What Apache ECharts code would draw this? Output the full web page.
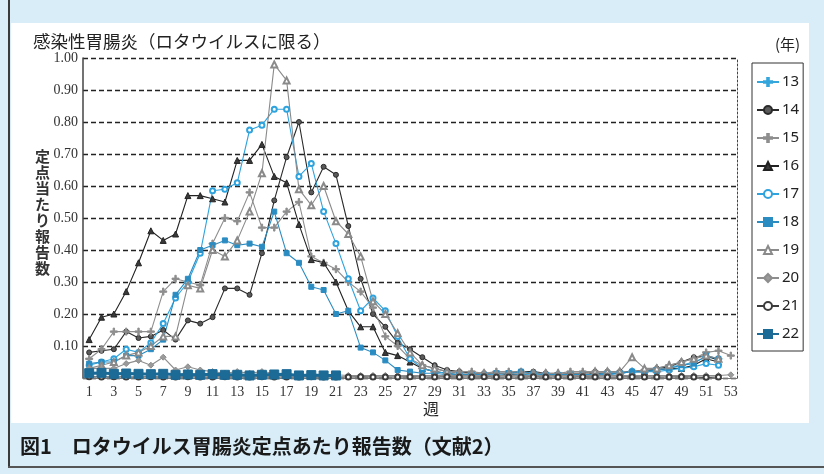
<!DOCTYPE html>
<html><head><meta charset="utf-8">
<script src="https://cdn.jsdelivr.net/npm/echarts@6/dist/echarts.min.js"></script>
<style>
html,body{margin:0;padding:0;background:#d8edf8;}
#wrap{position:relative;width:824px;height:474px;overflow:hidden;background:#d8edf8;}
#panel{position:absolute;left:11px;top:23px;width:798px;height:400px;background:#fff;}
#edge{position:absolute;left:8px;top:0;width:2px;height:468px;background:#3a3a3a;}
#bottom{position:absolute;left:8px;top:466px;width:816px;height:2px;background:#555;}
#chart{position:absolute;left:0;top:0;width:824px;height:474px;}
</style></head><body>
<div id="wrap"><div id="panel"></div><div id="edge"></div><div id="bottom"></div><div id="chart"></div></div>
<script>
const weeks = ['1','2','3','4','5','6','7','8','9','10','11','12','13','14','15','16','17','18','19','20','21','22','23','24','25','26','27','28','29','30','31','32','33','34','35','36','37','38','39','40','41','42','43','44','45','46','47','48','49','50','51','52','53'];
const seriesNames = ['13','14','15','16','17','18','19','20','21','22'];
const yTicks = [0.1,0.2,0.3,0.4,0.5,0.6,0.7,0.8,0.9,1.0];

const y13 = [null,null,null,null,null,null,null,null,null,null,null,null,null,null,null,null,null,null,null,null,null,null,null,null,null,null,null,null,null,null,null,null,null,null,null,null,null,null,null,null,null,
  0.01,0.01,0.015,0.02,0.02,0.03,0.035,0.04,0.05,0.065,0.06,null];
const y14 = [0.08,0.085,0.09,0.145,0.125,0.13,0.15,0.12,0.18,0.17,
  0.19,0.28,0.28,0.26,0.39,0.555,0.69,0.80,0.58,0.66,
  0.635,0.475,0.31,0.20,0.16,0.11,0.09,0.065,0.04,0.025,
  0.02,0.015,0.015,0.015,0.015,0.02,0.02,0.015,0.01,0.015,
  0.015,0.02,0.02,0.02,0.02,0.025,0.03,0.035,0.05,0.065,
  0.07,0.055,null];
const y15 = [0.06,0.09,0.145,0.145,0.145,0.145,0.27,0.31,0.30,0.29,
  0.42,0.50,0.49,0.58,0.47,0.47,0.52,0.55,0.38,0.36,
  0.34,0.30,0.27,0.22,0.13,0.10,0.06,0.04,0.03,0.02,
  0.02,0.02,0.015,0.02,0.02,0.02,0.015,0.015,0.015,0.02,
  0.02,0.02,0.02,0.02,0.02,0.025,0.03,0.04,0.05,0.06,
  0.08,0.085,0.07];
const y16 = [0.12,0.19,0.20,0.27,0.36,0.46,0.43,0.45,0.57,0.57,
  0.56,0.55,0.68,0.68,0.73,0.63,0.61,0.48,0.37,0.36,
  0.30,0.21,0.16,0.16,0.08,0.07,0.05,0.03,0.02,0.015,
  0.01,0.01,0.01,0.015,0.01,0.01,0.015,0.01,0.01,0.01,
  0.01,0.015,0.015,0.015,0.02,0.02,0.025,0.03,0.03,0.04,
  0.06,0.05,null];
const y17 = [0.04,0.05,0.06,0.09,0.08,0.11,0.17,0.25,0.30,0.39,
  0.585,0.59,0.61,0.775,0.79,0.84,0.84,0.63,0.67,0.52,
  0.42,0.31,0.21,0.25,0.21,0.13,0.06,0.03,0.02,0.015,
  0.01,0.01,0.01,0.01,0.015,0.01,0.01,0.01,0.01,0.01,
  0.01,0.01,0.015,0.015,0.02,0.02,0.02,0.025,0.03,0.035,
  0.045,0.04,null];
const y18 = [0.045,0.05,0.05,0.07,0.07,0.09,0.12,0.26,0.31,0.40,
  0.415,0.43,0.415,0.42,0.41,0.52,0.39,0.36,0.285,0.275,
  0.20,0.21,0.095,0.08,0.055,0.025,0.02,0.015,0.015,0.01,
  0.01,0.01,0.01,0.015,0.015,0.02,0.015,0.01,0.01,0.01,
  0.01,0.01,0.01,0.015,0.02,0.02,0.025,0.03,0.04,0.045,
  0.07,0.06,null];
const y19 = [0.03,0.04,0.05,0.07,0.08,0.10,0.13,0.13,0.29,0.28,
  0.40,0.38,0.43,0.52,0.64,0.98,0.93,0.59,0.54,0.60,
  0.49,0.45,0.38,0.24,0.20,0.14,0.08,0.04,0.03,0.02,
  0.015,0.015,0.015,0.015,0.015,0.015,0.015,0.015,0.015,0.015,
  0.015,0.02,0.02,0.02,0.065,0.03,0.03,0.04,0.05,0.06,
  0.07,0.06,null];
const y20 = [0.03,0.03,0.03,0.045,0.055,0.04,0.065,0.025,0.035,0.025,
  0.02,0.015,0.02,0.015,0.02,0.015,0.01,0.01,0.01,0.01,
  0.01,0.008,0.008,0.008,0.008,0.008,0.008,0.008,0.008,0.008,
  0.008,0.008,0.008,0.008,0.008,0.008,0.008,0.008,0.008,0.008,
  0.008,0.008,0.008,0.008,0.008,0.008,0.008,0.008,0.008,0.008,
  0.008,0.008,0.01];
const y21 = [0.004,0.003,0.004,0.003,0.003,0.004,0.003,0.003,0.004,0.003,
  0.003,0.004,0.003,0.003,0.004,0.003,0.003,0.003,0.004,0.003,
  0.003,0.003,0.004,0.003,0.003,0.003,0.004,0.003,0.003,0.004,
  0.003,0.003,0.004,0.003,0.003,0.003,0.004,0.003,0.003,0.003,
  0.004,0.003,0.003,0.003,0.004,0.003,0.003,0.003,0.004,0.003,
  0.002,0.003,null];
const y22 = [0.015,0.016,0.013,0.014,0.013,0.012,0.013,0.01,0.011,0.01,
  0.012,0.01,0.01,0.008,0.01,0.011,0.012,0.008,0.009,0.008,
  0.008,null,null,null,null,null,null,null,null,null,
  null,null,null,null,null,null,null,null,null,null,
  null,null,null,null,null,null,null,null,null,null,
  null,null,null];

const PLUS = 'path://M4,0h2v4h4v2h-4v4h-2v-4h-4v-2h4z';
function mk(name, data, color, symbol, size, o) {
  o = o || {};
  return {
    name: name, type: 'line', data: data, symbol: symbol, symbolSize: size,
    showAllSymbol: true, connectNulls: false, animation: false,
    lineStyle: {color: color, width: o.lw || 1.1},
    itemStyle: {color: o.fill || color, borderColor: o.stroke || color, borderWidth: o.bw == null ? 1 : o.bw},
    emphasis: {disabled: true}, z: o.z || 2
  };
}

const chart = echarts.init(document.getElementById('chart'));
const serif = 'Liberation Serif';
const jp = 'Noto Sans CJK JP';
chart.setOption({
  backgroundColor: 'transparent',
  animation: false,
  grid: {left: 83, right: 87, top: 58, bottom: 96},
  xAxis: {
    type: 'category', data: weeks, boundaryGap: true,
    axisLine: {show: true, lineStyle: {color: '#777', width: 1}},
    axisTick: {show: false},
    axisLabel: {interval: 1, fontFamily: serif, fontSize: 14, color: '#333', margin: 7},
    splitLine: {show: false}
  },
  yAxis: [{
    type: 'value', min: 0, max: 1, interval: 0.1,
    axisLine: {show: true, lineStyle: {color: '#444', width: 1.5}},
    axisTick: {show: false},
    axisLabel: {fontFamily: serif, fontSize: 14, color: '#333', margin: 5,
      formatter: function (v) { return v === 0 ? '' : v.toFixed(2); }},
    splitLine: {show: true, lineStyle: {color: '#222', width: 1.3, type: [5, 3]}}
  }, {
    type: 'value', min: 0, max: 1, interval: 0.1, position: 'right',
    axisLine: {show: true, lineStyle: {color: '#444', width: 1, type: [2, 2]}},
    axisTick: {show: false}, axisLabel: {show: false}, splitLine: {show: false}
  }],
  legend: {
    orient: 'vertical', left: 752, top: 63,
    data: seriesNames,
    itemWidth: 22, itemHeight: 10, itemGap: 10,
    padding: [10, 4, 8, 4],
    borderColor: '#333', borderWidth: 1,
    textStyle: {fontFamily: 'Noto Sans', fontSize: 15, color: '#222', padding: [0, 0, 0, -2], height: 18, lineHeight: 18}
  },
  series: [
    mk('13', y13, '#35a6dc', PLUS, 7),
    mk('14', y14, '#2a2a2a', 'circle', 5, {fill: '#5a5a5a'}),
    mk('15', y15, '#8e8e8e', PLUS, 7),
    mk('16', y16, '#222222', 'triangle', 6, {fill: '#3a3a3a'}),
    mk('17', y17, '#2fa3dd', 'emptyCircle', 5, {bw: 1.2}),
    mk('18', y18, '#2b8cc2', 'rect', 5),
    mk('19', y19, '#8a8a8a', 'emptyTriangle', 6),
    mk('20', y20, '#8d8d8d', 'diamond', 6, {fill: '#9a9a9a'}),
    mk('21', y21, '#3c3c3c', 'emptyCircle', 5, {bw: 1.1}),
    mk('22', y22, '#1c6a96', 'rect', 9, {lw: 3, z: 5})
  ],
  graphic: [
    {type: 'text', left: 33, top: 33, style: {text: '感染性胃腸炎（ロタウイルスに限る）', fontSize: 17.5, fontFamily: jp, fill: '#222'}},
    {type: 'text', left: 775, top: 37, style: {text: '(年)', fontSize: 15, fontFamily: jp, fill: '#222'}},
    {type: 'text', left: 35, top: 148, style: {text: '定\n点\n当\nた\nり\n報\n告\n数', fontSize: 15, fontFamily: jp, fontWeight: 'bold', lineHeight: 16, fill: '#333'}},
    {type: 'text', left: 423, top: 401, style: {text: '週', fontSize: 16, fontFamily: jp, fill: '#222'}},
    {type: 'text', left: 20, top: 436, style: {text: '図1　ロタウイルス胃腸炎定点あたり報告数（文献2）', fontSize: 20, fontFamily: jp, fontWeight: 'bold', fill: '#1a1a1a'}}
  ]
});
</script>
</body></html>
